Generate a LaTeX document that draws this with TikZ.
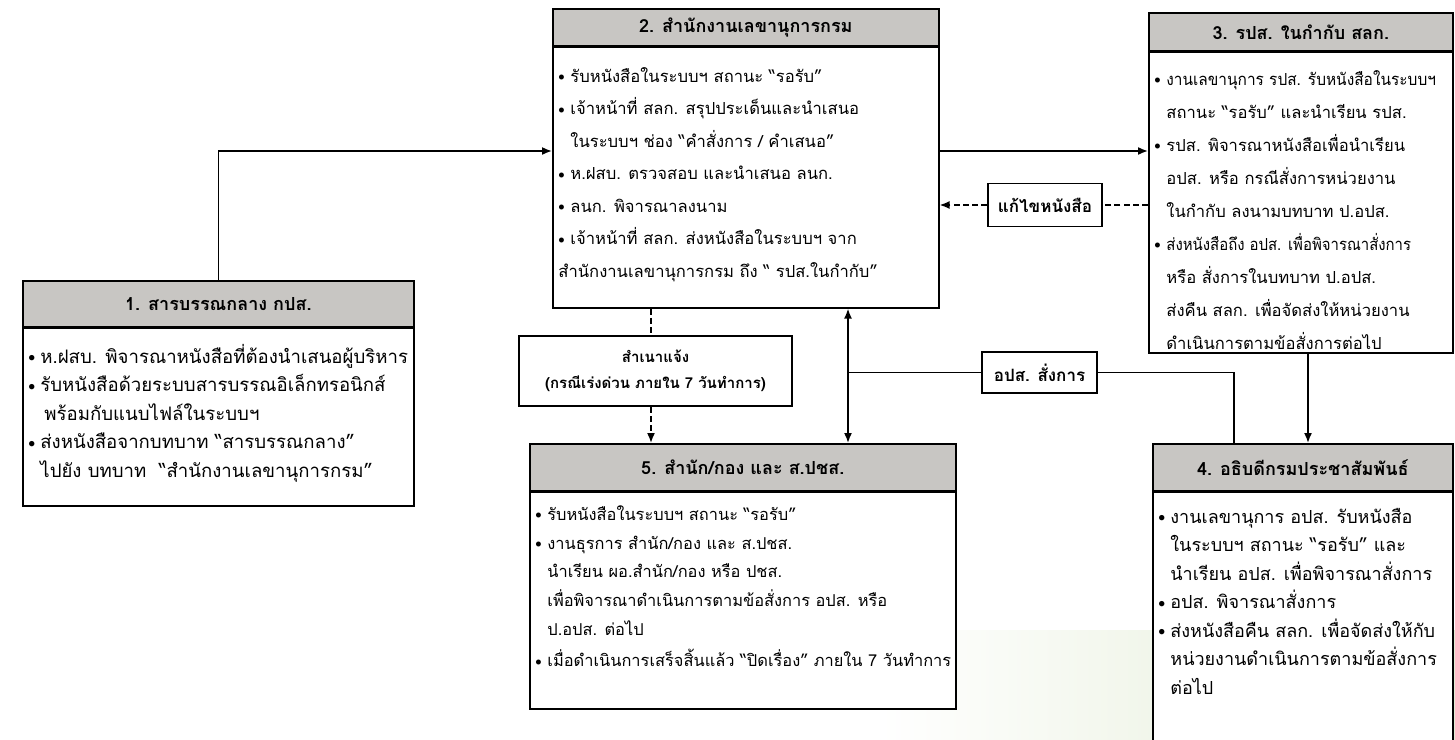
\documentclass[tikz,border=0pt]{standalone}
\usepackage{fontspec}
\newfontfamily\thai[Script=Thai]{Loma}
\usetikzlibrary{arrows.meta}
\definecolor{hdr}{RGB}{200,198,195}
\definecolor{scan}{RGB}{226,236,212}
\newcommand{\bul}{\makebox[6pt][l]{\raisebox{0.8pt}{\scalebox{0.75}{$\bullet$}}}}
\newcommand{\ind}{\hspace*{6pt}}
\begin{document}
\begin{tikzpicture}[x=0.5pt,y=-0.5pt,
  frame/.style={draw=black, line width=0.8pt, fill=white, inner sep=0pt, anchor=north west},
  head/.style={draw=black, line width=0.8pt, fill=hdr, inner sep=0pt, anchor=north west,
    font=\thai\bfseries\fontsize{9}{11}\selectfont},
  body/.style={anchor=north west, align=left, inner sep=0pt},
  lab/.style={draw=black, line width=0.8pt, fill=white, inner sep=0pt, align=center,
    font=\thai\bfseries\fontsize{8.5}{13}\selectfont},
  conn/.style={line width=0.8pt, -{Latex[length=5pt,width=4pt]}},
  plain/.style={line width=0.8pt},
  dsh/.style={line width=0.8pt, dash pattern=on 3pt off 1.6pt}]
\useasboundingbox (0,0) rectangle (1455,739);
\shade[left color=white, right color=scan] (880,630) rectangle (1455,739);

% Box 1
\node[frame, minimum width=195.5pt, minimum height=112.5pt] (b1) at (22,280) {};
\node[head, minimum width=195.5pt, minimum height=23pt] (h1) at (22,280) {1. สารบรรณกลาง กปส.};
\draw[line width=1.3pt] (h1.south west) -- (h1.south east);
\node[body, font=\thai\fontsize{9.3}{14.25}\selectfont] (t1) at (28,343) {\rule{0pt}{10pt}%
\bul ห.ฝสบ. พิจารณาหนังสือที่ต้องนำเสนอผู้บริหาร\\
\bul รับหนังสือด้วยระบบสารบรรณอิเล็กทรอนิกส์\\
\ind\hspace*{2pt}พร้อมกับแนบไฟล์ในระบบฯ\\
\bul ส่งหนังสือจากบทบาท “สารบรรณกลาง”\\
\ind ไปยัง บทบาท \ “สำนักงานเลขานุการกรม”};

% Box 2
\node[frame, minimum width=193pt, minimum height=149.5pt] (b2) at (552,8) {};
\node[head, minimum width=193pt, minimum height=18.5pt] (h2) at (552,8) {2. สำนักงานเลขานุการกรม};
\draw[line width=1.3pt] (h2.south west) -- (h2.south east);
\node[body, font=\thai\fontsize{8.3}{16.25}\selectfont] (t2) at (558,62) {\rule{0pt}{10pt}%
\bul รับหนังสือในระบบฯ สถานะ “รอรับ”\\
\bul เจ้าหน้าที่ สลก. สรุปประเด็นและนำเสนอ\\
\ind ในระบบฯ ช่อง “คำสั่งการ / คำเสนอ”\\
\bul ห.ฝสบ. ตรวจสอบ และนำเสนอ ลนก.\\
\bul ลนก. พิจารณาลงนาม\\
\bul เจ้าหน้าที่ สลก. ส่งหนังสือในระบบฯ จาก\\
สำนักงานเลขานุการกรม ถึง “ รปส.ในกำกับ”};

% Box 3
\node[frame, minimum width=152pt, minimum height=170pt] (b3) at (1148,12) {};
\node[head, minimum width=152pt, minimum height=19pt] (h3) at (1148,12) {3. รปส. ในกำกับ สลก.};
\draw[line width=1.3pt] (h3.south west) -- (h3.south east);
\node[body, font=\thai\fontsize{8.3}{16.5}\selectfont] (t3) at (1154,65) {\rule{0pt}{10pt}%
\bul \scalebox{0.93}[1]{งานเลขานุการ รปส. รับหนังสือในระบบฯ}\\
\ind สถานะ “รอรับ” และนำเรียน รปส.\\
\bul รปส. พิจารณาหนังสือเพื่อนำเรียน\\
\ind อปส. หรือ กรณีสั่งการหน่วยงาน\\
\ind ในกำกับ ลงนามบทบาท ป.อปส.\\
\bul \scalebox{0.9}[1]{ส่งหนังสือถึง อปส. เพื่อพิจารณาสั่งการ}\\
\ind หรือ สั่งการในบทบาท ป.อปส.\\
\ind ส่งคืน สลก. เพื่อจัดส่งให้หน่วยงาน\\
\ind ดำเนินการตามข้อสั่งการต่อไป};

% Box 4
\node[frame, minimum width=150pt, minimum height=154pt] (b4) at (1152,443) {};
\node[head, minimum width=150pt, minimum height=23.5pt] (h4) at (1152,443) {4. อธิบดีกรมประชาสัมพันธ์};
\draw[line width=1.3pt] (h4.south west) -- (h4.south east);
\node[body, font=\thai\fontsize{9}{14.25}\selectfont] (t4) at (1158,503) {\rule{0pt}{10pt}%
\bul งานเลขานุการ อปส. รับหนังสือ\\
\ind ในระบบฯ สถานะ “รอรับ” และ\\
\ind นำเรียน อปส. เพื่อพิจารณาสั่งการ\\
\bul อปส. พิจารณาสั่งการ\\
\bul ส่งหนังสือคืน สลก. เพื่อจัดส่งให้กับ\\
\ind หน่วยงานดำเนินการตามข้อสั่งการ\\
\ind ต่อไป};

% Box 5
\node[frame, minimum width=213pt, minimum height=132.5pt] (b5) at (529,443) {};
\node[head, minimum width=213pt, minimum height=23.5pt] (h5) at (529,443) {5. สำนัก/กอง และ ส.ปชส.};
\draw[line width=1.3pt] (h5.south west) -- (h5.south east);
\node[body, font=\thai\fontsize{8.2}{14.35}\selectfont] (t5) at (535,500) {\rule{0pt}{10pt}%
\bul รับหนังสือในระบบฯ สถานะ “รอรับ”\\
\bul งานธุรการ สำนัก/กอง และ ส.ปชส.\\
\ind นำเรียน ผอ.สำนัก/กอง หรือ ปชส.\\
\ind เพื่อพิจารณาดำเนินการตามข้อสั่งการ อปส. หรือ\\
\ind ป.อปส. ต่อไป\\[1.5pt]
\bul เมื่อดำเนินการเสร็จสิ้นแล้ว “ปิดเรื่อง” ภายใน 7 วันทำการ};

% label boxes
\node[lab, minimum width=57pt, minimum height=21.5pt] (fix) at (1045,205) {แก้ไขหนังสือ};
\node[lab, minimum width=136.5pt, minimum height=35pt, font=\thai\bfseries\fontsize{7.5}{13}\selectfont] (cc) at (655.5,371) {สำเนาแจ้ง\\(กรณีเร่งด่วน ภายใน 7 วันทำการ)};
\node[lab, minimum width=57.5pt, minimum height=20.5pt] (ord) at (1039.5,372.5) {อปส. สั่งการ};

% helper coordinates
\coordinate (v1) at (217.5,151);
\coordinate (dx) at (651,0);
\coordinate (ux) at (848,0);
\coordinate (rx) at (1234,0);
\coordinate (dx2) at (1308,0);

% connectors
\draw[conn] (b1.north) |- (b2.west |- v1);
\draw[conn] (b2.east |- v1) -- (b3.west |- v1);
\draw[dsh] (b3.west |- fix) -- (fix.east);
\draw[dsh, -{Latex[length=5pt,width=4pt]}] (fix.west) -- (b2.east |- fix);
\draw[dsh] (b2.south -| dx) -- (cc.north -| dx);
\draw[dsh, -{Latex[length=5pt,width=4pt]}] (cc.south -| dx) -- (b5.north -| dx);
\draw[line width=0.8pt, {Latex[length=5pt,width=4pt]}-{Latex[length=5pt,width=4pt]}] (b2.south -| ux) -- (b5.north -| ux);
\draw[plain] (ux |- ord) -- (ord.west);
\draw[plain] (ord.east) -| (b4.north -| rx);
\draw[conn] (b3.south -| dx2) -- (b4.north -| dx2);
\end{tikzpicture}
\end{document}
